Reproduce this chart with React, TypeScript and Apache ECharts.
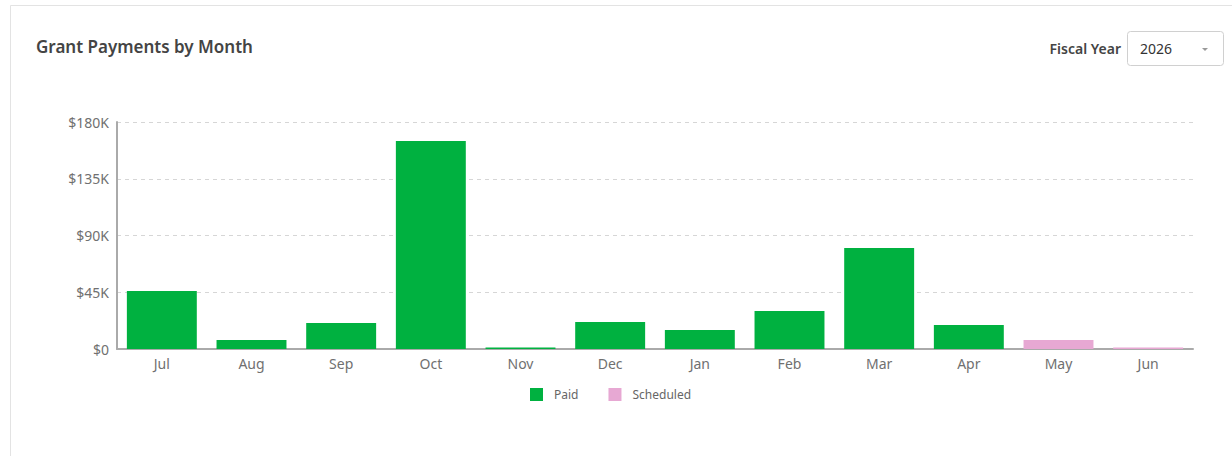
import React, { useEffect, useRef } from "react";
import * as echarts from "echarts";

const months = ["Jul", "Aug", "Sep", "Oct", "Nov", "Dec", "Jan", "Feb", "Mar", "Apr", "May", "Jun"];
const paid = [46000, 7100, 20600, 164900, 1200, 21400, 15100, 30100, 80100, 19000, null, null];
const scheduled = [null, null, null, null, null, null, null, null, null, null, 7100, 1200];
const yTicks = [0, 45000, 90000, 135000, 180000];
const fiscalYear = "2026";

const FONT = "'Noto Sans', 'Open Sans', sans-serif";

export default function App() {
  const ref = useRef<HTMLDivElement>(null);
  useEffect(() => {
    if (!ref.current) return;
    const chart = echarts.init(ref.current, null, { renderer: "svg" });
    chart.setOption({
      animation: false,
      backgroundColor: "#ffffff",
      textStyle: { fontFamily: FONT },
      graphic: [
        {
          type: "rect",
          shape: { x: 10.5, y: 5.5, width: 1240, height: 470 },
          style: { fill: "#fff", stroke: "#e3e3e3", lineWidth: 1 },
          z: -10,
        },
        {
          type: "text",
          x: 36,
          y: 46,
          style: {
            text: "Grant Payments by Month",
            font: `600 17px ${FONT}`,
            fill: "#444444",
            verticalAlign: "middle",
          },
        },
        {
          type: "text",
          x: 1121,
          y: 48,
          style: {
            text: "Fiscal Year",
            font: `600 14px ${FONT}`,
            fill: "#444444",
            align: "right",
            verticalAlign: "middle",
          },
        },
        {
          type: "rect",
          shape: { x: 1127.5, y: 31.5, width: 96, height: 34, r: 3 },
          style: { fill: "#fff", stroke: "#d0d0d0", lineWidth: 1 },
        },
        {
          type: "text",
          x: 1140,
          y: 48,
          style: {
            text: fiscalYear,
            font: `14px ${FONT}`,
            fill: "#333",
            verticalAlign: "middle",
          },
        },
        {
          type: "polygon",
          shape: { points: [[1202, 48], [1208, 48], [1205, 51]] },
          style: { fill: "#999" },
        },
      ],
      grid: { left: 117, right: 39, top: 122, bottom: 107, containLabel: false },
      legend: {
        left: 525,
        top: 383,
        itemWidth: 13,
        itemHeight: 13,
        itemGap: 30,
        icon: "rect",
        textStyle: { fontSize: 12, color: "#666", fontFamily: FONT, padding: [0, 0, 0, 6] },
        data: ["Paid", "Scheduled"],
      },
      xAxis: {
        type: "category",
        data: months,
        axisLine: { show: true, lineStyle: { color: "#aaaaaa", width: 2 } },
        axisTick: { show: false },
        axisLabel: { color: "#707070", fontSize: 14, margin: 7, fontFamily: FONT },
      },
      yAxis: {
        type: "value",
        min: yTicks[0],
        max: yTicks[yTicks.length - 1],
        interval: yTicks[1] - yTicks[0],
        axisLine: { show: true, lineStyle: { color: "#aaaaaa", width: 2 } },
        axisTick: { show: false },
        axisLabel: {
          color: "#707070",
          fontSize: 14,
          margin: 8,
          fontFamily: FONT,
          formatter: (v: number) => (v === 0 ? "$0" : "$" + v / 1000 + "K"),
        },
        splitLine: { show: true, lineStyle: { color: "#d6d6d6", type: [4, 4] } },
      },
      series: [
        {
          name: "Paid",
          type: "bar",
          stack: "total",
          data: paid,
          barCategoryGap: "22%",
          itemStyle: { color: "#00b140" },
        },
        {
          name: "Scheduled",
          type: "bar",
          stack: "total",
          data: scheduled,
          barCategoryGap: "22%",
          itemStyle: { color: "#e7a8d3" },
        },
      ],
    });
    return () => chart.dispose();
  }, []);
  return (
    <div
      ref={ref}
      style={{ position: "absolute", left: 0, top: 0, width: 1232, height: 456 }}
    />
  );
}
